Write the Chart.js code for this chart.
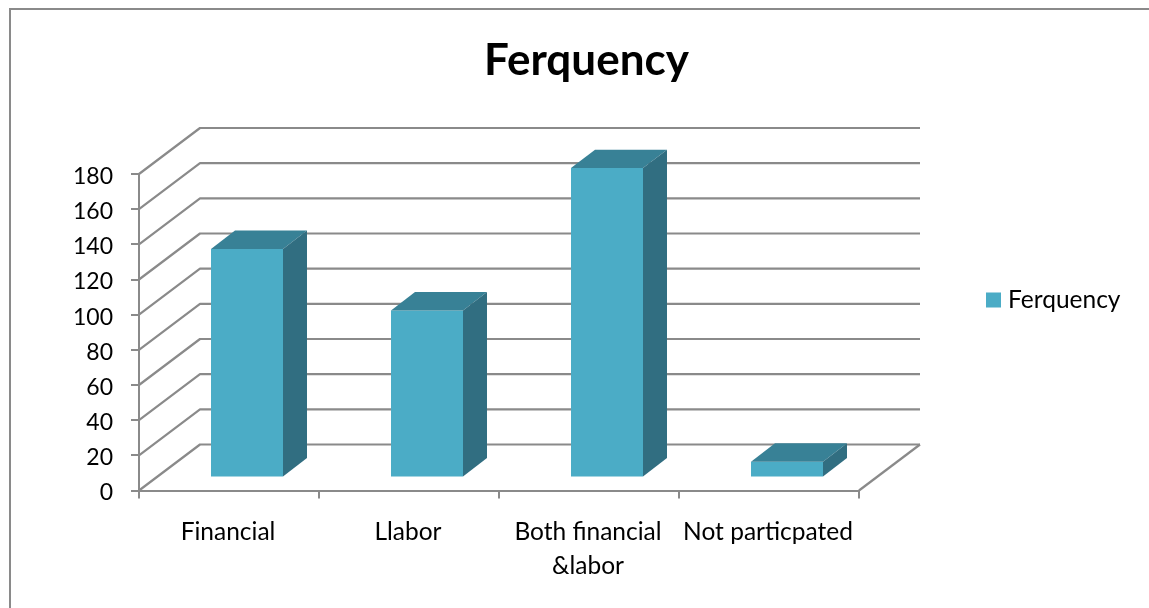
<!DOCTYPE html>
<html><head><meta charset="utf-8">
<script src="https://cdn.jsdelivr.net/npm/chart.js@4"></script>
<style>html,body{margin:0;padding:0;background:#fff}canvas{display:block}</style>
</head><body><canvas id="c" width="1149" height="608"></canvas>
<script>
const categories = ['Financial', 'Llabor', ['Both financial', '&labor'], 'Not particpated'];
const seriesName = 'Ferquency';
const values = [130, 95, 176, 9];

const FRONT = '#4BACC6', TOP = '#388196', SIDE = '#316E81', GRID = '#8A8A8A';
const FONT = 'Lato, Carlito, sans-serif';
const WALL = { dx: 61, dy: -46 };      // depth of the 3D box
const BAR = { dx: 24, dy: -18.4, fx: 18, fy: -13 }; // bar depth and inset

const threeD = {
  id: 'threeD',
  beforeLayout(chart) {
    const l = chart.legend;
    if (l && !l._patched) {
      const fit = l.fit;
      l.fit = function () { fit.call(this); this.width = 290; };
      l._patched = true;
    }
    const y = chart.scales.y;
    if (y && !y._shifted) {
      const orig = y.drawLabels;
      y.drawLabels = function (area) {
        this.ctx.save(); this.ctx.translate(0, 2.5); orig.call(this, area); this.ctx.restore();
      };
      y._shifted = true;
    }
    const x = chart.scales.x;
    if (x && !x._shifted) {
      const orig = x.drawLabels;
      x.drawLabels = function (area) {
        this.ctx.save(); this.ctx.translate(-1, 0); orig.call(this, area); this.ctx.restore();
      };
      x._shifted = true;
    }
  },
  afterLayout(chart) {
    const l = chart.legend;
    if (l) { l.left = 981.25; l.right = 1149; l.top = 280; l.bottom = 320; }
    const t = chart.titleBlock;
    if (t) { t.left = 24; t.right = 1149; }
  },
  beforeDraw(chart) {
    const c = chart.ctx;
    c.save();
    c.strokeStyle = GRID; c.lineWidth = 2;
    c.beginPath(); c.moveTo(10, 609); c.lineTo(10, 9); c.lineTo(1150, 9); c.stroke();
    c.restore();
  },
  beforeDatasetsDraw(chart) {
    const c = chart.ctx, y = chart.scales.y, a = chart.chartArea;
    c.save();
    c.strokeStyle = GRID; c.lineWidth = 2.2; c.lineJoin = 'round';
    y.ticks.forEach(t => {
      const py = y.getPixelForValue(t.value);
      c.beginPath();
      c.moveTo(a.left, py);
      c.lineTo(a.left + WALL.dx, py + WALL.dy);
      c.lineTo(a.right + WALL.dx, py + WALL.dy);
      c.stroke();
    });
    c.beginPath();
    c.moveTo(a.right, a.bottom);
    c.lineTo(a.right + WALL.dx, a.bottom + WALL.dy);
    c.stroke();
    c.restore();
    c.save();
    c.translate(BAR.fx, BAR.fy);
  },
  afterDatasetsDraw(chart) {
    const c = chart.ctx;
    c.restore();
    chart.getDatasetMeta(0).data.forEach(el => {
      const l = el.x - el.width / 2 + BAR.fx, r = el.x + el.width / 2 + BAR.fx;
      const t = el.y + BAR.fy, b = el.base + BAR.fy;
      c.fillStyle = TOP;
      c.beginPath();
      c.moveTo(l, t); c.lineTo(l + BAR.dx, t + BAR.dy); c.lineTo(r + BAR.dx, t + BAR.dy); c.lineTo(r, t);
      c.closePath(); c.fill();
      c.fillStyle = SIDE;
      c.beginPath();
      c.moveTo(r, t); c.lineTo(r + BAR.dx, t + BAR.dy); c.lineTo(r + BAR.dx, b + BAR.dy); c.lineTo(r, b);
      c.closePath(); c.fill();
    });
  }
};

new Chart(document.getElementById('c'), {
  type: 'bar',
  data: {
    labels: categories,
    datasets: [{ label: seriesName, data: values, backgroundColor: FRONT, borderWidth: 0,
      barPercentage: 0.4, categoryPercentage: 1, clip: false }]
  },
  plugins: [threeD],
  options: {
    responsive: false,
    animation: false,
    layout: { padding: 0 },
    plugins: {
      tooltip: { enabled: false },
      title: {
        display: true, text: seriesName, color: '#000',
        font: { family: FONT, size: 44, weight: 'bold', lineHeight: 1.2 },
        padding: { top: 34, bottom: 87.2 }
      },
      legend: {
        position: 'right', align: 'center',
        labels: {
          color: '#000', boxWidth: 4.5, boxHeight: 4.5, padding: 10,
          font: { family: FONT, size: 24.5 },
          generateLabels: () => [{ text: seriesName, fillStyle: FRONT, strokeStyle: FRONT, lineWidth: 10.5 }]
        }
      }
    },
    scales: {
      x: {
        afterFit(s) { s.height = 117.5; },
        border: { color: GRID, width: 2 },
        grid: { display: true, drawOnChartArea: false, drawTicks: true, tickLength: 8, tickColor: GRID, tickWidth: 2, color: GRID, lineWidth: 2 },
        ticks: { color: '#000', font: { family: FONT, size: 24.5, lineHeight: 1.38 }, padding: 17, maxRotation: 0, autoSkip: false }
      },
      y: {
        min: 0, max: 180,
        afterFit(s) { s.width = 139; },
        border: { color: GRID, width: 2 },
        grid: { display: true, drawOnChartArea: false, drawTicks: true, tickLength: 8, tickColor: GRID, tickWidth: 2, color: GRID, lineWidth: 2 },
        ticks: { stepSize: 20, color: '#000', font: { family: FONT, size: 23 }, padding: 18 }
      }
    }
  }
});
</script></body></html>
